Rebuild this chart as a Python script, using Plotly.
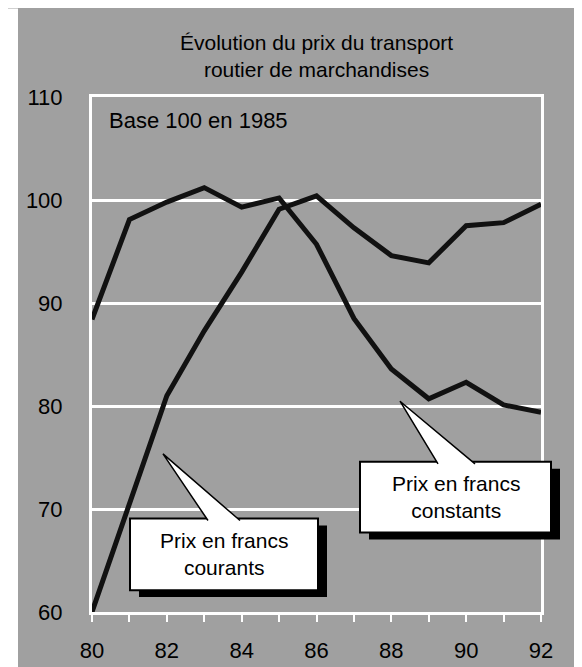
import plotly.graph_objects as go

# Indices base 100 en 1985
years = [80, 81, 82, 83, 84, 85, 86, 87, 88, 89, 90, 91, 92]
prix_courants = [60, 70.5, 81, 87.3, 93.0, 99.1, 100.4, 97.3, 94.6, 93.9, 97.5, 97.8, 99.6]
prix_constants = [88.4, 98.1, 99.8, 101.2, 99.3, 100.2, 95.7, 88.5, 83.6, 80.7, 82.3, 80.1, 79.4]

y_ticks = [60, 70, 80, 90, 100, 110]
x_ticks = [80, 82, 84, 86, 88, 90, 92]

W, H = 582, 667
L, R, T, B = 84, 49, 89, 60
PW, PH = W - L - R, H - T - B

FONT = "Liberation Sans Narrow, Arial Narrow, Liberation Sans, Arial, sans-serif"
BG = "#a0a0a0"


def px(x):
    return (x - L) / PW


def py(y):
    return (H - B - y) / PH


fig = go.Figure()
fig.add_trace(go.Scatter(x=years, y=prix_courants, mode="lines", name="Prix en francs courants",
                         line=dict(color="#111111", width=5)))
fig.add_trace(go.Scatter(x=years, y=prix_constants, mode="lines", name="Prix en francs constants",
                         line=dict(color="#111111", width=5)))


def callout(box, tip, base, text):
    x0, y0, x1, y1 = box
    fig.add_shape(type="rect", xref="paper", yref="paper", layer="above",
                  x0=px(x0 + 9), x1=px(x1 + 9), y0=py(y0 + 7), y1=py(y1 + 7),
                  fillcolor="black", line_width=0)
    fig.add_shape(type="rect", xref="paper", yref="paper", layer="above",
                  x0=px(x0), x1=px(x1), y0=py(y0), y1=py(y1),
                  fillcolor="white", line=dict(color="black", width=2))
    path = (f"M {px(base[0])},{py(y0 + 2)} L {px(tip[0])},{py(tip[1])} "
            f"L {px(base[1])},{py(y0 + 2)}")
    fig.add_shape(type="path", xref="paper", yref="paper", layer="above", path=path,
                  fillcolor="white", line=dict(color="black", width=1.5))
    fig.add_annotation(text=text, xref="paper", yref="paper", showarrow=False,
                       x=px((x0 + x1) / 2), y=py((y0 + y1) / 2),
                       xanchor="center", yanchor="middle",
                       font=dict(family=FONT, size=21, color="black"))


callout((122, 513, 310, 585), (155, 448), (200, 232), "Prix en francs<br>courants")
callout((352, 456, 543, 527), (392, 395), (430, 467), "Prix en francs<br>constants")

# left white strip of the scan
fig.add_shape(type="rect", xref="paper", yref="paper", layer="below",
              x0=px(0), x1=px(10), y0=py(H), y1=py(0), fillcolor="white", line_width=0)

fig.add_annotation(text="Évolution du prix du transport<br>routier de marchandises",
                   xref="paper", yref="paper", x=0.5, y=py(48), showarrow=False,
                   xanchor="center", yanchor="middle",
                   font=dict(family=FONT, size=21, color="black"))
fig.add_annotation(text="Base 100 en 1985", xref="paper", yref="paper",
                   x=px(99), y=py(113), showarrow=False, xanchor="left", yanchor="middle",
                   font=dict(family=FONT, size=22, color="black"))

fig.update_layout(
    width=W, height=H,
    margin=dict(l=L, r=R, t=T, b=B),
    paper_bgcolor=BG, plot_bgcolor=BG,
    showlegend=False,
    font=dict(family=FONT, size=22, color="black"),
    xaxis=dict(range=[80, 92], tickvals=x_ticks, ticktext=[str(v) for v in x_ticks],
               showgrid=False, zeroline=False,
               showline=True, linecolor="white", linewidth=3, mirror=True,
               ticks="outside", ticklen=7, tickwidth=2, tickcolor="white",
               minor=dict(dtick=1, ticks="outside", ticklen=7, tickwidth=2, tickcolor="white"),
               ticklabelstandoff=10),
    yaxis=dict(range=[60, 110], tickvals=y_ticks, ticktext=[str(v) for v in y_ticks],
               showgrid=True, gridcolor="white", gridwidth=3, zeroline=False,
               showline=True, linecolor="white", linewidth=3, mirror=True,
               ticks="", ticklabelstandoff=22),
)

fig.write_html("out.html")
